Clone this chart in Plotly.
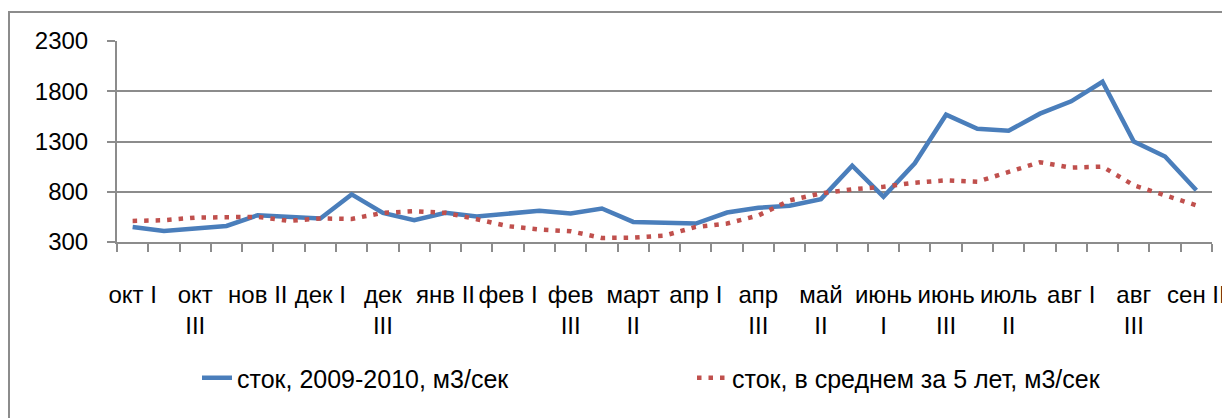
import plotly.graph_objects as go

categories = ["окт I", "окт II", "окт III", "нов I", "нов II", "нов III",
              "дек I", "дек II", "дек III", "янв I", "янв II", "янв III",
              "фев I", "фев II", "фев III", "март I", "март II", "март III",
              "апр I", "апр II", "апр III", "май I", "май II", "май III",
              "июнь I", "июнь II", "июнь III", "июль I", "июль II", "июль III",
              "авг I", "авг II", "авг III", "сен I", "сен II"]

flow_2009_2010 = [450, 410, 434, 460, 567, 550, 534, 774, 590, 517, 590, 555,
                  583, 610, 583, 633, 500, 493, 483, 593, 640, 660, 727, 1060,
                  750, 1083, 1567, 1427, 1407, 1577, 1700, 1894, 1300, 1150, 814]

flow_5yr_avg = [510, 517, 543, 547, 550, 510, 534, 530, 590, 607, 590, 527,
                457, 424, 407, 340, 344, 364, 450, 484, 564, 714, 784, 824,
                850, 890, 914, 900, 1000, 1094, 1040, 1050, 864, 760, 665]

tick_labels = ["окт I", "окт<br>III", "нов II", "дек I", "дек<br>III", "янв II",
               "фев I", "фев<br>III", "март<br>II", "апр I", "апр<br>III",
               "май<br>II", "июнь<br>I", "июнь<br>III", "июль<br>II", "авг I",
               "авг<br>III", "сен II"]

y_ticks = [300, 800, 1300, 1800, 2300]

name_1 = "сток, 2009-2010, м3/сек"
name_2 = "сток, в среднем за 5 лет, м3/сек"

x_idx = list(range(len(categories)))
tick_idx = x_idx[::2]

FONT = "Liberation Sans, Arial, sans-serif"
GRID = "#8c8c8c"

fig = go.Figure()
fig.add_trace(go.Scatter(x=x_idx, y=flow_2009_2010, mode="lines", name=name_1,
                         line=dict(color="#4A7EBB", width=4.5),
                         customdata=categories,
                         hovertemplate="%{customdata}: %{y}<extra></extra>"))
fig.add_trace(go.Scatter(x=x_idx, y=flow_5yr_avg, mode="lines", name=name_2,
                         line=dict(color="#C0504D", width=4.5, dash="4.5px,7px"),
                         customdata=categories,
                         hovertemplate="%{customdata}: %{y}<extra></extra>"))

# the page body adds an 8px offset; figure is sized so the plot lands at the
# same screen position as the reference
OFF = 8
SL, ST = 117, 41          # screen position of plot area's top-left
W, H = 1230 - OFF, 418 - OFF
L, T = SL - OFF, ST - OFF
R, B = 18, 176
pw, ph = W - L - R, H - T - B


def px_x(px):
    return (px - SL) / pw


def px_y(py):
    return 1 - (py - ST) / ph


fig.update_layout(
    width=W, height=H,
    margin=dict(l=L, r=R, t=T, b=B, autoexpand=False),
    paper_bgcolor="white", plot_bgcolor="white",
    font=dict(family=FONT, size=24, color="black"),
    showlegend=True,
    legend=dict(orientation="h", x=px_x(197), xanchor="left",
                y=px_y(378), yanchor="middle",
                font=dict(family=FONT, size=25, color="black"),
                entrywidth=450, entrywidthmode="pixels",
                bgcolor="rgba(0,0,0,0)"),
    xaxis=dict(range=[-0.5, len(categories) - 0.5], tickmode="array",
               tickvals=tick_idx, ticktext=tick_labels, ticks="",
               showgrid=False, zeroline=False,
               showline=True, linecolor=GRID, linewidth=2,
               ticklabelstandoff=30,
               tickfont=dict(family=FONT, size=24, color="black"),
               minor=dict(tickmode="array",
                          tickvals=[i - 0.5 for i in range(len(categories) + 1)],
                          ticks="outside", ticklen=8, tickwidth=1.5,
                          tickcolor=GRID, showgrid=False)),
    yaxis=dict(range=[300, 2300], tickmode="array", tickvals=y_ticks,
               ticks="outside", ticklen=8, tickwidth=2, tickcolor=GRID,
               showgrid=True, gridcolor=GRID, gridwidth=2,
               zeroline=False, showline=True, linecolor=GRID, linewidth=2,
               ticklabelstandoff=14,
               tickfont=dict(family=FONT, size=24, color="black")),
    shapes=[dict(type="rect", xref="paper", yref="paper",
                 x0=px_x(9), x1=px_x(1245), y0=px_y(440), y1=px_y(12),
                 line=dict(color="#8c8c8c", width=2), fillcolor="rgba(0,0,0,0)",
                 layer="below")],
)

fig.write_html("out.html")
